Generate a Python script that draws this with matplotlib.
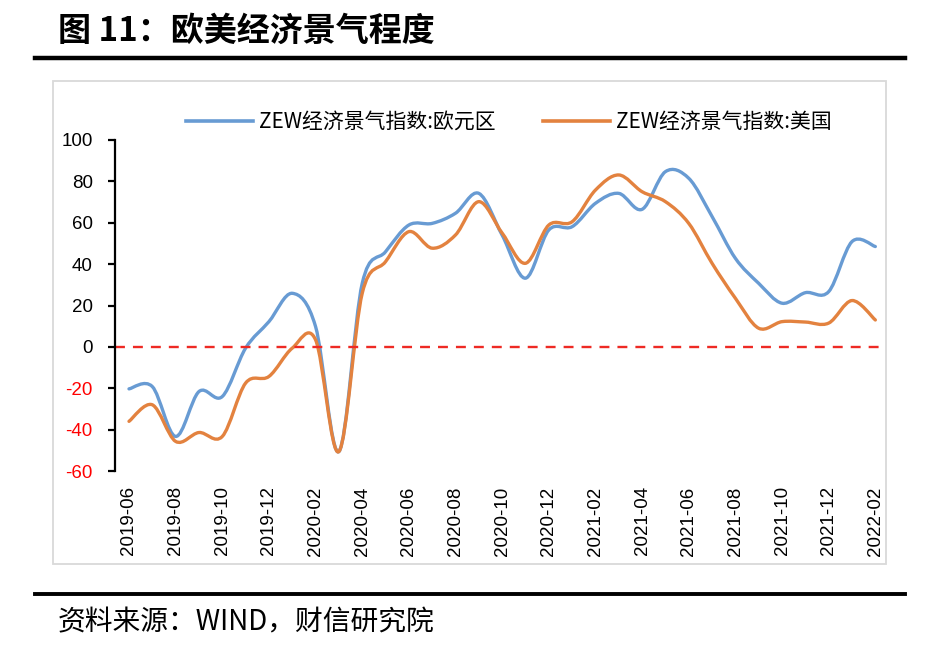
import matplotlib
matplotlib.use("Agg")
import matplotlib.pyplot as plt
from matplotlib.path import Path
from matplotlib.patches import PathPatch, Rectangle
from matplotlib.lines import Line2D
import numpy as np

months = ["2019-06", "2019-07", "2019-08", "2019-09", "2019-10", "2019-11", "2019-12",
          "2020-01", "2020-02", "2020-03", "2020-04", "2020-05", "2020-06", "2020-07",
          "2020-08", "2020-09", "2020-10", "2020-11", "2020-12", "2021-01", "2021-02",
          "2021-03", "2021-04", "2021-05", "2021-06", "2021-07", "2021-08", "2021-09",
          "2021-10", "2021-11", "2021-12", "2022-01", "2022-02"]
euro = [-20.3, -19.2, -43.3, -21.6, -24.0, -0.6, 12.2, 25.9, 9.8, -50.6, 30.7, 46.0,
        58.9, 59.7, 64.6, 74.2, 54.0, 33.2, 56.5, 58.1, 69.4, 74.2, 66.5, 84.7,
        81.5, 63.0, 42.8, 30.7, 21.1, 26.2, 26.7, 50.9, 48.5]
usa = [-36.0, -28.0, -45.7, -41.4, -43.3, -17.5, -14.3, -0.6, 3.4, -50.6, 25.9, 41.2,
       55.7, 47.7, 54.1, 70.2, 55.0, 40.4, 58.9, 60.5, 75.8, 83.1, 75.0, 70.2,
       59.7, 40.4, 23.5, 9.0, 12.2, 12.0, 11.5, 22.4, 13.0]
legend_labels = ["ZEW经济景气指数:欧元区", "ZEW经济景气指数:美国"]
yticks = [-60, -40, -20, 0, 20, 40, 60, 80, 100]
title = "图 11：欧美经济景气程度"
source = "资料来源：WIND，财信研究院"

BLUE = "#689BD3"
ORANGE = "#E3823F"
CJK = ["Noto Sans CJK SC", "DejaVu Sans"]

W, H = 927, 668
fig = plt.figure(figsize=(W / 100, H / 100), dpi=100)


def smooth_path(xs, ys):
    pts = np.column_stack([xs, ys]).astype(float)
    n = len(pts)
    verts = [pts[0]]
    codes = [Path.MOVETO]
    for i in range(n - 1):
        p0 = pts[i - 1] if i > 0 else pts[i]
        p1 = pts[i]
        p2 = pts[i + 1]
        p3 = pts[i + 2] if i + 2 < n else pts[i + 1]
        c1 = p1 + (p2 - p0) / 6.0
        c2 = p2 - (p3 - p1) / 6.0
        verts += [c1, c2, p2]
        codes += [Path.CURVE4] * 3
    return Path(verts, codes)


# chart frame
fig.patches.append(Rectangle((53 / W, 1 - 564 / H), (886 - 53) / W, (564 - 81) / H,
                             transform=fig.transFigure, fill=False,
                             edgecolor="#D9D9D9", linewidth=1.3))

ax = fig.add_axes([115 / W, 1 - 471 / H, (880 - 115) / W, (471 - 140) / H])
x = np.arange(len(months))
ax.add_patch(PathPatch(smooth_path(x, euro), fill=False, edgecolor=BLUE,
                       linewidth=2.4, capstyle="round", joinstyle="round"))
ax.add_patch(PathPatch(smooth_path(x, usa), fill=False, edgecolor=ORANGE,
                       linewidth=2.4, capstyle="round", joinstyle="round"))
ax.axhline(0, color="#EE2A24", linestyle=(0, (4.2, 3.4)), linewidth=1.7, zorder=1)

ax.set_xlim(-0.6, 32.2)
ax.set_ylim(-60, 100)
ax.set_yticks(yticks)
ax.set_yticklabels([str(v) for v in yticks], fontfamily="Liberation Sans", fontsize=13.5)
for lab, v in zip(ax.get_yticklabels(), yticks):
    lab.set_color("#FF0000" if v < 0 else "black")
ax.set_xticks(x[::2])
ax.set_xticklabels(months[::2], rotation=90, fontfamily="Liberation Sans", fontsize=13.5)
ax.tick_params(axis="y", length=5, width=1.6, pad=11, direction="out")
ax.tick_params(axis="x", length=0, pad=11)
for s in ["top", "right", "bottom"]:
    ax.spines[s].set_visible(False)
ax.spines["left"].set_linewidth(1.6)

handles = [Line2D([], [], color=BLUE, linewidth=2.6),
           Line2D([], [], color=ORANGE, linewidth=2.6)]
fig.legend(handles, legend_labels, loc="center", bbox_to_anchor=(509 / W, 1 - 122 / H),
           ncol=2, frameon=False, prop={"family": CJK, "size": 15},
           handlelength=3.2, handletextpad=0.3, columnspacing=2.3)

fig.text(58 / W, 1 - 31 / H, title, fontsize=23.8, fontweight="bold",
         family=CJK, va="center", ha="left")
fig.text(58 / W, 1 - 622 / H, source, fontsize=20, family=CJK, va="center", ha="left",
         style="italic")
fig.add_artist(Line2D([35 / W, 905 / W], [1 - 57.5 / H, 1 - 57.5 / H], color="black",
                      linewidth=3.2, transform=fig.transFigure))
fig.add_artist(Line2D([35 / W, 905 / W], [1 - 594 / H, 1 - 594 / H], color="black",
                      linewidth=2.8, transform=fig.transFigure))

fig.savefig("out.png", dpi=100)
